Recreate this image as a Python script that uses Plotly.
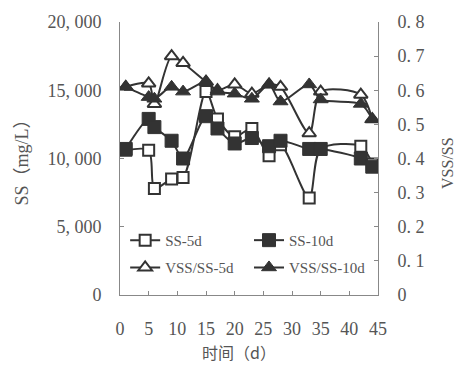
import plotly.graph_objects as go

days = [1, 5, 6, 9, 11, 15, 17, 20, 23, 26, 28, 33, 35, 42, 44]
ss_5d = [10600, 10600, 7800, 8500, 8600, 14900, 12900, 11600, 12200, 10200, 11000, 7100, 10700, 10900, 9600]
ss_10d = [10700, 12900, 12300, 11300, 10000, 13100, 12200, 11100, 11500, 10900, 11300, 10700, 10700, 10000, 9400]
vss_5d = [0.61, 0.62, 0.56, 0.70, 0.68, 0.625, 0.60, 0.617, 0.59, 0.617, 0.61, 0.474, 0.596, 0.587, 0.515]
vss_10d = [0.61, 0.58, 0.575, 0.61, 0.596, 0.625, 0.596, 0.59, 0.575, 0.617, 0.567, 0.617, 0.573, 0.56, 0.515]

x_ticks = [0, 5, 10, 15, 20, 25, 30, 35, 40, 45]
y_ticks = [0, 5000, 10000, 15000, 20000]
y_tick_text = ["0", "5, 000", "10, 000", "15, 000", "20, 000"]
y2_ticks = [0, 0.1, 0.2, 0.3, 0.4, 0.5, 0.6, 0.7, 0.8]
y2_tick_text = ["0", "0. 1", "0. 2", "0. 3", "0. 4", "0. 5", "0. 6", "0. 7", "0. 8"]

LINE = "#333333"
TXT = "#555555"
SERIF = "Liberation Serif, DejaVu Serif, serif"

fig = go.Figure()
common_line = dict(color=LINE, width=2, shape="spline", smoothing=0.8)

fig.add_trace(go.Scatter(x=days, y=ss_5d, name="SS-5d", mode="lines+markers",
                         line=common_line,
                         marker=dict(symbol="square", size=11, color="white",
                                     line=dict(color=LINE, width=2)),
                         legend="legend"))
fig.add_trace(go.Scatter(x=days, y=ss_10d, name="SS-10d", mode="lines+markers",
                         line=common_line,
                         marker=dict(symbol="square", size=13, color=LINE,
                                     line=dict(color=LINE, width=1)),
                         legend="legend2"))
fig.add_trace(go.Scatter(x=days, y=vss_5d, name="VSS/SS-5d", mode="lines+markers",
                         yaxis="y2", line=common_line,
                         marker=dict(symbol="triangle-up", size=12, color="white",
                                     line=dict(color=LINE, width=2)),
                         legend="legend3"))
fig.add_trace(go.Scatter(x=days, y=vss_10d, name="VSS/SS-10d", mode="lines+markers",
                         yaxis="y2", line=common_line,
                         marker=dict(symbol="triangle-up", size=13, color=LINE,
                                     line=dict(color=LINE, width=1)),
                         legend="legend4"))

axis_common = dict(showgrid=False, zeroline=False, showline=True, linecolor="#888888",
                   linewidth=1, ticks="inside", ticklen=4, tickcolor="#888888",
                   tickfont=dict(family=SERIF, size=18, color=TXT))


def leg(x, y):
    return dict(orientation="h", x=x, y=y, xanchor="left", yanchor="middle",
                bgcolor="rgba(0,0,0,0)", itemwidth=30,
                font=dict(family=SERIF, size=15, color=TXT))


fig.update_layout(
    width=458, height=366,
    margin=dict(l=120, r=80, t=20, b=71),
    paper_bgcolor="white", plot_bgcolor="white",
    showlegend=True,
    xaxis=dict(range=[0, 45], tickvals=x_ticks, ticklabelstandoff=17, mirror=False, **axis_common),
    yaxis=dict(range=[0, 20000], tickvals=y_ticks, ticktext=y_tick_text,
               ticklabelstandoff=14, **axis_common),
    yaxis2=dict(range=[0, 0.8], tickvals=y2_ticks, ticktext=y2_tick_text, overlaying="y",
                side="right", ticklabelstandoff=15, **axis_common),
    legend=leg(0.02, 0.2),
    legend2=leg(0.5, 0.2),
    legend3=leg(0.02, 0.1),
    legend4=leg(0.5, 0.1),
    annotations=[
        dict(text="SS（mg/L）", xref="paper", yref="paper", x=(21 - 120) / 258, y=0.5,
             textangle=-90, showarrow=False, xanchor="center", yanchor="middle",
             font=dict(family="Liberation Serif, Noto Sans CJK SC", size=18, color=TXT)),
        dict(text="VSS/SS", xref="paper", yref="paper", x=(448 - 120) / 258, y=(295 - 162) / 275,
             textangle=-90, showarrow=False, xanchor="center", yanchor="middle",
             font=dict(family=SERIF, size=16, color=TXT)),
        dict(text="时间（d）", xref="paper", yref="paper", x=(239 - 120) / 258, y=(295 - 352) / 275,
             showarrow=False, xanchor="center", yanchor="middle",
             font=dict(family="Noto Sans CJK SC", size=16, color=TXT)),
    ],
)

fig.write_html("out.html")
